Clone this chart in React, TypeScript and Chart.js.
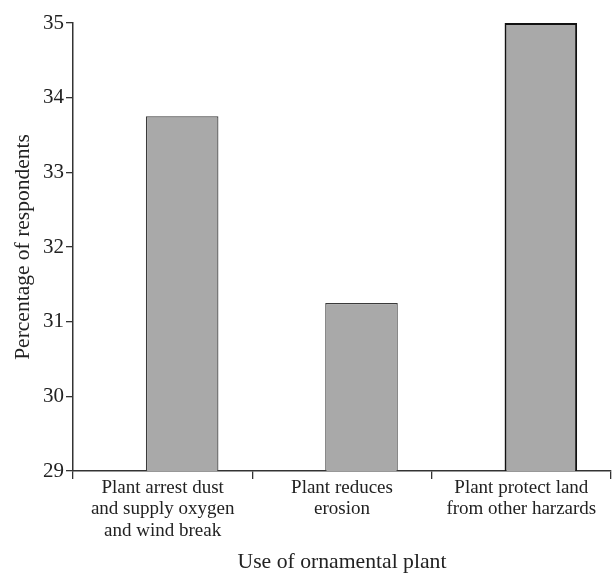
import { useEffect, useRef } from 'react';
import { Chart, registerables } from 'chart.js';

Chart.register(...registerables);

const categories: string[][] = [
  ['Plant arrest dust', 'and supply oxygen', 'and wind break'],
  ['Plant reduces', 'erosion'],
  ['Plant protect land', 'from other harzards'],
];
const percentages: number[] = [33.75, 31.25, 35];
const yTickValues: number[] = [29, 30, 31, 32, 33, 34, 35];
const xTitle = 'Use of ornamental plant';
const yTitle = 'Percentage of respondents';

const FONT = 'Liberation Serif';
const TEXT = '#222';
const LINE = '#333';

export default function App() {
  const ref = useRef<HTMLCanvasElement>(null);

  useEffect(() => {
    const canvas = ref.current;
    if (!canvas) return;
    const chart = new Chart(canvas, {
      type: 'bar',
      data: {
        labels: categories,
        datasets: [
          {
            label: 'spacer',
            data: categories.map(() => null),
            categoryPercentage: 0.435,
            barPercentage: 1.86,
          },
          {
            label: 'Percentage of respondents',
            data: percentages,
            backgroundColor: '#a9a9a9',
            borderColor: ['#3a3a3a', '#3a3a3a', '#111111'],
            borderWidth: [1.2, 1.2, 2],
            borderSkipped: 'start',
            categoryPercentage: 0.435,
            barPercentage: 1.86,
          },
        ],
      } as any,
      options: {
        responsive: false,
        animation: false,
        devicePixelRatio: 1,
        layout: { padding: { left: 0, top: 23, right: 2, bottom: 0 } },
        plugins: {
          legend: { display: false },
          tooltip: { enabled: false },
          title: { display: false },
        },
        scales: {
          x: {
            offset: true,
            grid: {
              offset: true,
              drawOnChartArea: false,
              drawTicks: true,
              tickLength: 8,
              color: LINE,
              lineWidth: 1.3,
            },
            border: { display: true, color: LINE, width: 1.5 },
            ticks: {
              color: TEXT,
              font: { family: FONT, size: 19, lineHeight: 1.13 },
              padding: -2,
              maxRotation: 0,
              minRotation: 0,
              autoSkip: false,
            },
            title: {
              display: true,
              text: xTitle,
              color: TEXT,
              font: { family: FONT, size: 21.7, lineHeight: 1 },
              padding: { top: 0, bottom: 0 },
            },
            afterFit: (s: any) => {
              s.height = 102;
            },
          },
          y: {
            min: 29,
            max: 35,
            afterBuildTicks: (s: any) => {
              s.ticks = yTickValues.map((v) => ({ value: v }));
            },
            ticks: {
              color: TEXT,
              font: { family: FONT, size: 21 },
              padding: 2,
            },
            grid: {
              drawOnChartArea: false,
              drawTicks: true,
              tickLength: 7,
              color: LINE,
              lineWidth: 1.3,
            },
            border: { display: true, color: LINE, width: 1.5 },
            title: {
              display: true,
              text: yTitle,
              color: TEXT,
              font: { family: FONT, size: 21.5, lineHeight: 1 },
              padding: { top: 12.5, bottom: 0 },
            },
            afterFit: (s: any) => {
              s.width = 73;
            },
          },
        },
      } as any,
    });
    return () => chart.destroy();
  }, []);

  return (
    <div style={{ position: 'absolute', left: 0, top: 0, width: 613, height: 573, background: '#fff' }}>
      <canvas ref={ref} width={613} height={573} style={{ display: 'block', width: 613, height: 573 }} />
    </div>
  );
}
